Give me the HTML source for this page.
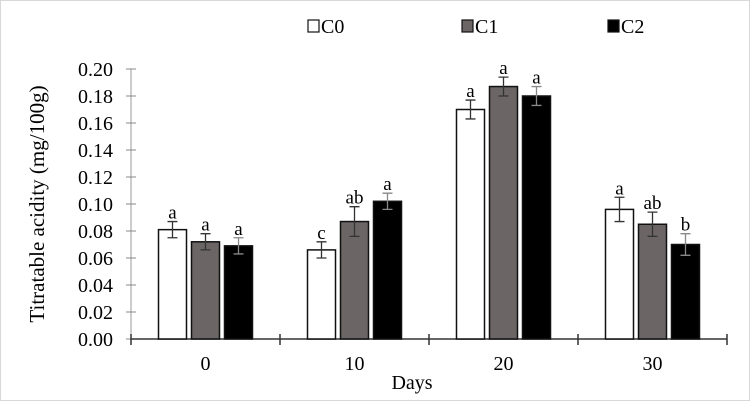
<!DOCTYPE html>
<html><head><meta charset="utf-8"><style>
body{margin:0;background:#fff}
svg{display:block;font-family:"Liberation Serif",serif}
</style></head><body>
<svg id="chart" width="750" height="401">
<rect x="0.5" y="0.5" width="749" height="400" fill="#fff" stroke="#d8d8d8"/>
<g id="legend"></g>
<g id="axes"></g>
<g id="bars"></g>
<text x="0" y="0" transform="translate(44,204) rotate(-90)" text-anchor="middle" font-size="21">Titratable acidity (mg/100g)</text>
<text x="412" y="389" text-anchor="middle" font-size="20">Days</text>
</svg>
<script>
const categories=["0","10","20","30"];
const seriesNames=["C0","C1","C2"];
const c0Values=[0.081,0.066,0.170,0.096];
const c1Values=[0.072,0.087,0.187,0.085];
const c2Values=[0.069,0.102,0.180,0.070];
const c0Errors=[0.006,0.006,0.007,0.009];
const c1Errors=[0.006,0.011,0.007,0.009];
const c2Errors=[0.006,0.006,0.007,0.008];
const c0Letters=["a","c","a","a"];
const c1Letters=["a","ab","a","ab"];
const c2Letters=["a","a","a","b"];
const yTicks=[0,0.02,0.04,0.06,0.08,0.10,0.12,0.14,0.16,0.18,0.20];

const NS="http://www.w3.org/2000/svg";
const X0=131,X1=727,Y0=339,Y1=69,YMAX=0.2;
const bw=(X1-X0)/categories.length;
const y=v=>Y0-(v/YMAX)*(Y0-Y1);
const xc=i=>X0+bw*(i+0.5);
function mk(t,a,p){const e=document.createElementNS(NS,t);for(const k in a)e.setAttribute(k,a[k]);p.appendChild(e);return e;}
const axes=document.getElementById('axes'),bars=document.getElementById('bars'),leg=document.getElementById('legend');
let l=mk('line',{x1:X0,y1:Y1,x2:X0,y2:Y0,stroke:'#999','stroke-width':1},axes);


yTicks.forEach(v=>{
 const t=mk('line',{x1:X0-5,x2:X0+5,y1:y(v),y2:y(v),stroke:'#888'},axes);
 
 
 const tx=mk('text',{x:X0-18,y:y(v)+7,'text-anchor':'end','font-size':20},axes);
 tx.textContent=v.toFixed(2);
 
 
});
l=mk('line',{x1:X0,y1:Y0,x2:X1,y2:Y0,stroke:'#333','stroke-width':1.5},axes);


for(let i=0;i<=categories.length;i++){
 const t=mk('line',{x1:X0+bw*i,x2:X0+bw*i,y1:Y0-5,y2:Y0+6,stroke:'#333','stroke-width':1.5},axes);
 
 
}
categories.forEach((c,i)=>{
 const tx=mk('text',{x:xc(i),y:Y0+31,'text-anchor':'middle','font-size':20},axes);
 tx.textContent=c;
 
 
});
const vals=[c0Values,c1Values,c2Values],errs=[c0Errors,c1Errors,c2Errors],lets=[c0Letters,c1Letters,c2Letters];
const fills=['#fff','#6b6566','#000'];
const barW=28,step=33;
categories.forEach((c,i)=>{
 vals.forEach((s,j)=>{
  const cx=xc(i)+(j-1)*step;
  const r=mk('rect',{x:cx-barW/2,y:y(s[i]),width:barW,height:Y0-y(s[i]),fill:fills[j],stroke:'#111','stroke-width':1.5},bars);
  
  
  const e=errs[j][i],yt=y(s[i]+e),yb=y(s[i]-e);
  const eb=mk('path',{d:`M${cx},${yt}V${yb}M${cx-5},${yt}H${cx+5}M${cx-5},${yb}H${cx+5}`,stroke:j==2?'#888':'#333','stroke-width':1.3,fill:'none'},bars);
  
  
  const lt=mk('text',{x:cx,y:yt-3,'text-anchor':'middle','font-size':19},bars);
  lt.textContent=lets[j][i];
  
  
 });
});
const lx=[308,462,608];
seriesNames.forEach((n,j)=>{
 const r=mk('rect',{x:lx[j],y:20,width:11,height:12,fill:fills[j],stroke:'#111','stroke-width':1.2},leg);
 
 
 const t=mk('text',{x:lx[j]+13,y:33,'font-size':20},leg);
 t.textContent=n;
 
 
});
</script>
</body></html>
